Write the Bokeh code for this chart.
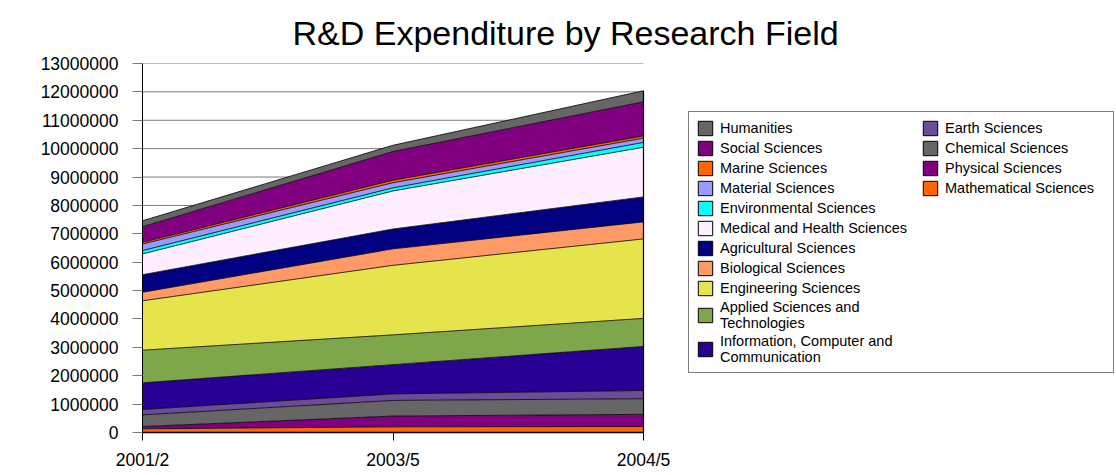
from bokeh.plotting import figure
from bokeh.models import ColumnDataSource, Range1d, FixedTicker, BasicTickFormatter, Legend, LegendItem
from bokeh.embed import file_html
from bokeh.resources import INLINE

# ---------------- data ----------------
periods = ["2001/2", "2003/5", "2004/5"]

mathematical = [130000, 200000, 210000]
physical = [80000, 380000, 430000]
chemical = [410000, 550000, 550000]
earth = [190000, 230000, 290000]
ict = [940000, 1030000, 1550000]
applied = [1150000, 1050000, 990000]
engineering = [1740000, 2450000, 2800000]
biological = [300000, 580000, 600000]
agricultural = [620000, 700000, 880000]
medical = [730000, 1340000, 1750000]
environmental = [120000, 110000, 170000]
material = [230000, 180000, 150000]
marine = [60000, 90000, 80000]
social = [550000, 1010000, 1200000]
humanities = [210000, 220000, 390000]

y_ticks = list(range(0, 13000001, 1000000))

# stacking order, bottom to top
keys = ["mathematical", "physical", "chemical", "earth", "ict", "applied",
        "engineering", "biological", "agricultural", "medical",
        "environmental", "material", "marine", "social", "humanities"]
series = [mathematical, physical, chemical, earth, ict, applied,
          engineering, biological, agricultural, medical,
          environmental, material, marine, social, humanities]
labels = ["Mathematical Sciences", "Physical Sciences", "Chemical Sciences",
          "Earth Sciences", "Information, Computer and\nCommunication",
          "Applied Sciences and\nTechnologies", "Engineering Sciences",
          "Biological Sciences", "Agricultural Sciences",
          "Medical and Health Sciences", "Environmental Sciences",
          "Material Sciences", "Marine Sciences", "Social Sciences",
          "Humanities"]
colors = ["#FF6600", "#800080", "#666666", "#6B4C96", "#280094", "#7EA64B",
          "#E6E44C", "#FF9966", "#000080", "#FFEEFF", "#00FFFF", "#9999FF",
          "#FF6600", "#800080", "#666666"]

xs = list(range(len(periods)))
data = {"x": xs}
for k, s in zip(keys, series):
    data[k] = s
source = ColumnDataSource(data)

FONT = "Liberation Sans"

# layout: frame spans the whole right side so the legend can sit inside it;
# the data occupy the left 501 px of the 972 px frame.
W, LEFT = 1114, 142
FRAME_W = W - LEFT
DATA_W = 501
x_end = (len(periods) - 1) * FRAME_W / DATA_W

p = figure(width=W, height=472, output_backend="svg", toolbar_location=None,
           x_range=Range1d(0, x_end), y_range=Range1d(0, 13000000),
           min_border_left=LEFT, min_border_right=0, min_border_top=63,
           min_border_bottom=37)
p.outline_line_color = None
p.background_fill_color = "white"
p.border_fill_color = "white"

p.title.text = "R&D Expenditure by Research Field"
p.title.align = "left"
p.title.offset = 150
p.title.standoff = 23
p.title.text_font = FONT
p.title.text_font_size = "34px"
p.title.text_font_style = "normal"
p.title.text_color = "black"

# horizontal grid lines limited to the data span
p.xgrid.visible = False
p.ygrid.visible = False
p.segment(x0=[xs[0]] * len(y_ticks), x1=[xs[-1]] * len(y_ticks), y0=y_ticks, y1=y_ticks,
          line_color="#7a7a7a", line_width=1)

areas = p.varea_stack(stackers=keys, x="x", color=colors, source=source)
p.vline_stack(stackers=keys, x="x", line_color="black", line_width=0.8, source=source)

# right edge of the stacked block
totals = [sum(s[i] for s in series) for i in range(len(periods))]
p.segment(x0=[xs[-1]], y0=[0], x1=[xs[-1]], y1=[totals[-1]], line_color="black", line_width=1.2)

# axes
p.yaxis.ticker = FixedTicker(ticks=y_ticks)
p.yaxis.formatter = BasicTickFormatter(use_scientific=False)
p.yaxis.axis_line_color = "black"
p.yaxis.major_tick_line_color = "#7a7a7a"
p.yaxis.major_tick_out = 10
p.yaxis.major_tick_in = 0
p.yaxis.minor_tick_line_color = None
p.yaxis.major_label_standoff = 14
p.yaxis.major_label_text_font = FONT
p.yaxis.major_label_text_font_size = "17.5px"
p.yaxis.major_label_text_color = "black"

p.xaxis.ticker = FixedTicker(ticks=xs)
p.xaxis.bounds = (xs[0], xs[-1])
p.xaxis.major_label_overrides = {x: lab for x, lab in zip(xs, periods)}
p.xaxis.axis_line_color = "black"
p.xaxis.axis_line_width = 1.5
p.xaxis.major_tick_line_color = "black"
p.xaxis.major_tick_out = 8
p.xaxis.major_tick_in = 0
p.xaxis.minor_tick_line_color = None
p.xaxis.major_label_standoff = 9
p.xaxis.major_label_text_font = FONT
p.xaxis.major_label_text_font_size = "17.5px"
p.xaxis.major_label_text_color = "black"

# legend swatches with black outlines (hidden placeholder quads)
nan = float("nan")
items = []
for lab, col in zip(labels, colors):
    r = p.quad(left=[nan], right=[nan], top=[nan], bottom=[nan],
               fill_color=col, line_color="black", line_width=1)
    items.append(LegendItem(label=lab, renderers=[r]))
items = items[::-1]
col1, col2 = items[:11], items[11:]

common = dict(label_text_font=FONT, label_text_font_size="14.5px",
              label_text_color="black", glyph_width=18, glyph_height=18,
              label_height=16, label_standoff=6, spacing=2, padding=7, margin=0)

legend1 = Legend(items=col1, location=(546, 59), label_width=386,
                 border_line_color="black", border_line_width=1,
                 background_fill_color="white", background_fill_alpha=1, **common)
legend2 = Legend(items=col2, location=(779, 235),
                 border_line_color=None, background_fill_alpha=0, **common)
p.add_layout(legend1, "center")
p.add_layout(legend2, "center")

open("out.html", "w").write(file_html(p, INLINE))
